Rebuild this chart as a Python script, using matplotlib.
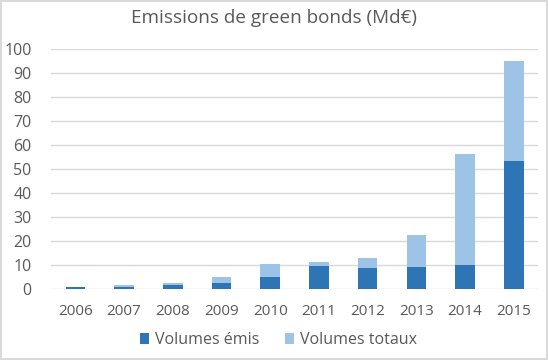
import matplotlib
matplotlib.use("Agg")
import matplotlib.pyplot as plt
import numpy as np

years = ["2006", "2007", "2008", "2009", "2010", "2011", "2012", "2013", "2014", "2015"]
volumes_emis = [1.0, 1.0, 1.8, 2.6, 5.0, 9.6, 8.9, 9.4, 10.0, 53.3]
volumes_totaux = [1.0, 1.7, 2.6, 5.0, 10.4, 11.1, 13.0, 22.4, 56.1, 95.0]

DARK = "#2E75B6"
LIGHT = "#9DC3E6"
TEXT = "#595959"

plt.rcParams.update({
    "font.family": ["Open Sans", "DejaVu Sans"],
    "font.size": 11.5,
})

fig = plt.figure(figsize=(5.48, 3.6), dpi=100)
fig.patch.set_edgecolor("#D9D9D9")
fig.patch.set_linewidth(1.5)
ax = fig.add_axes([0.093, 0.197, 0.889, 0.667])

x = np.arange(len(years))
reste = [t - e for t, e in zip(volumes_totaux, volumes_emis)]
ax.bar(x, volumes_emis, width=0.4, color=DARK, label="Volumes émis", zorder=3)
ax.bar(x, reste, width=0.4, bottom=volumes_emis, color=LIGHT,
       label="Volumes totaux", zorder=3)

ax.set_xlim(-0.5, len(years) - 0.5)
ax.set_ylim(0, 100)
ax.set_yticks(range(0, 101, 10))
ax.set_xticks(x)
ax.set_xticklabels(years)
ax.yaxis.grid(True, color="#D9D9D9", linewidth=1, zorder=0)
for s in ax.spines.values():
    s.set_visible(False)
ax.tick_params(length=0, colors=TEXT, labelsize=11.5)
ax.tick_params(axis="x", labelsize=11, pad=11)
ax.tick_params(axis="y", pad=14)

fig.text(0.5, 0.95, "Emissions de green bonds (Md€)", ha="center", va="center",
         fontsize=13.6, color=TEXT)
fig.legend(loc="center", bbox_to_anchor=(0.508, 0.055), ncol=2, frameon=False,
           fontsize=11.5, labelcolor=TEXT, handlelength=0.6, handleheight=0.6,
           handletextpad=0.35, columnspacing=1.6)

fig.savefig("out.png", dpi=100)
